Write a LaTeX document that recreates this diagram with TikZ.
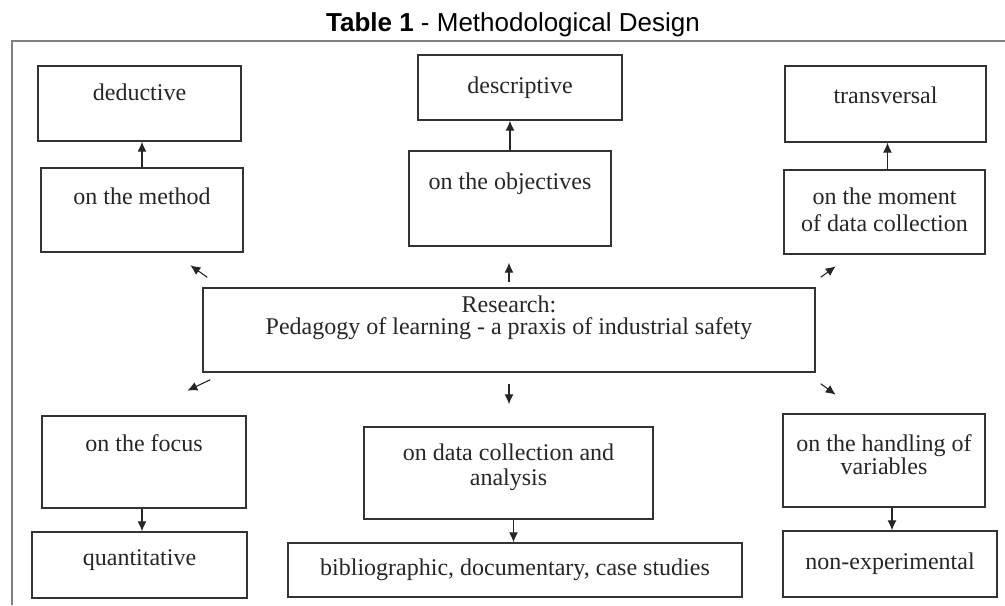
\documentclass[tikz,border=0pt]{standalone}
\usepackage{fontspec}
\setmainfont{Liberation Serif}
\newfontfamily\titlefont{Liberation Sans}
\usepackage{tikz}
\usetikzlibrary{arrows.meta}
\usetikzlibrary{calc}

\begin{document}
\begin{tikzpicture}[x=0.5pt, y=-0.5pt,
        box/.style={draw=black!80, line width=0.7pt, inner sep=0pt, align=center,
            text=black!85, text height=8.5pt, text depth=2.6pt,
            font=\fontsize{12}{12.5}\selectfont},
        arr/.style={-{Latex[length=5pt, width=4.5pt]}, line width=0.55pt, draw=black!85}]
    \useasboundingbox (0,0) rectangle (1005,605);
    % frame and title
    \draw [black!50, line width=0.8pt] (1005,41) -- (12,41) -- (12,605);
    \node (title) [anchor=base] at (513,32)
        {\titlefont\fontsize{13}{15}\selectfont\textbf{Table 1} - Methodological Design};

    % top row
    \node (ded) [box, minimum width=101.5pt, minimum height=37.5pt, text depth=11.1pt] at (139.5,103.5) {deductive};
    \node (desc) [box, minimum width=102pt, minimum height=32.5pt] at (520,87.5) {descriptive};
    \node (trans) [box, minimum width=100.5pt, minimum height=38pt, text depth=8.6pt] at (885.5,104) {transversal};
    % second row
    \node (meth) [box, minimum width=101pt, minimum height=42pt, text depth=13.6pt] at (142,210) {on the method};
    \node (obj) [box, minimum width=101pt, minimum height=47.5pt, text depth=17.6pt] at (510,198.5) {on the objectives};
    \node (mom) [box, minimum width=100.5pt, minimum height=42pt, text height=22pt,
        font=\fontsize{12}{13.5}\selectfont] at (884.5,212) {on the moment\\of data collection};
    % centre
    \node (res) [box, minimum width=306pt, minimum height=42pt, text height=19.7pt, text depth=15.1pt,
        font=\fontsize{12}{11.2}\selectfont] at (509,330)
        {Research:\\Pedagogy of learning - a praxis of industrial safety};
    % lower rows
    \node (focus) [box, minimum width=102pt, minimum height=46pt, text depth=18.6pt] at (144,462) {on the focus};
    \node (dc) [box, minimum width=144.5pt, minimum height=46pt, text height=21pt, text depth=8.1pt] at (508.5,473) {on data collection and\\analysis};
    \node (hand) [box, minimum width=101pt, minimum height=46.5pt, text height=20pt, text depth=5.6pt,
        font=\fontsize{12}{11.5}\selectfont] at (884,460.5) {on the handling of\\variables};
    \node (quant) [box, minimum width=107.5pt, minimum height=33pt, text depth=7.6pt] at (139.5,565) {quantitative};
    \node (bib) [box, minimum width=227pt, minimum height=27pt] at (515,570) {bibliographic, documentary, case studies};
    \node (nonexp) [box, minimum width=107pt, minimum height=33pt] at (890,564) {non-experimental};

    % loose arrows round the research box
    \coordinate (nwa) at ($(res.north west)+(5,-10)$);
    \coordinate (nwb) at ($(res.north west)+(-12,-22)$);
    \coordinate (nea) at ($(res.north east)+(5,-10)$);
    \coordinate (neb) at ($(res.north east)+(20,-21)$);
    \coordinate (swa) at ($(res.south west)+(8,7)$);
    \coordinate (swb) at ($(res.south west)+(-15,18)$);
    \coordinate (sea) at ($(res.south east)+(5,11)$);
    \coordinate (seb) at ($(res.south east)+(20,22)$);
    \draw [arr] (nwa) -- (nwb);
    \draw [arr] (nea) -- (neb);
    \draw [arr] (swa) -- (swb);
    \draw [arr] (sea) -- (seb);
    \draw [arr, shorten <=2.5pt, shorten >=8pt] (res.north) -- (res.north |- obj.south);
    \draw [arr, shorten <=5.5pt, shorten >=11pt] (res.south) -- (res.south |- dc.north);

    % box to box
    \draw [arr] (meth.north) -- (meth.north |- ded.south);
    \draw [arr] (obj.north) -- (obj.north |- desc.south);
    \draw [arr] ([xshift=1.5pt]mom.north) -- ([xshift=1.5pt]mom.north |- trans.south);
    \draw [arr] ([xshift=-1pt]focus.south) -- ([xshift=-1pt]focus.south |- quant.north);
    \draw [arr] ([xshift=2.5pt]dc.south) -- ([xshift=2.5pt]dc.south |- bib.north);
    \draw [arr] ([xshift=4pt]hand.south) -- ([xshift=4pt]hand.south |- nonexp.north);
\end{tikzpicture}
\end{document}
